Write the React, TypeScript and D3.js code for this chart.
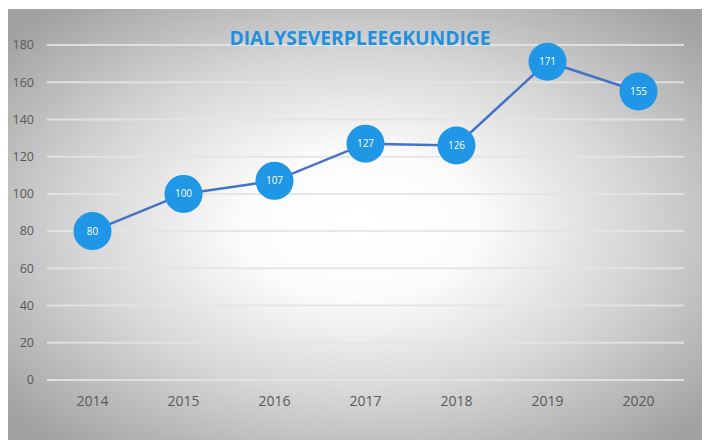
import * as d3 from "d3";
import { useEffect, useRef } from "react";

const years = ["2014", "2015", "2016", "2017", "2018", "2019", "2020"];
const counts = [80, 100, 107, 127, 126, 171, 155];
const yTicks = [0, 20, 40, 60, 80, 100, 120, 140, 160, 180];

const W = 702;
const H = 432;

export default function App() {
  const ref = useRef<SVGSVGElement>(null);

  useEffect(() => {
    if (!ref.current) return;
    const svg = d3.select(ref.current);
    svg.selectAll("*").remove();

    // page offset is 8px (body margin); coords below are in svg space
    const left = 39;
    const right = 676;
    const top = 37;
    const bottom = 372;

    const defs = svg.append("defs");
    const grad = defs
      .append("radialGradient")
      .attr("id", "bg")
      .attr("cx", "50%")
      .attr("cy", "50%")
      .attr("r", "66%");
    grad.append("stop").attr("offset", "0%").attr("stop-color", "#ffffff");
    grad.append("stop").attr("offset", "25%").attr("stop-color", "#fcfcfc");
    grad.append("stop").attr("offset", "60%").attr("stop-color", "#d6d6d6");
    grad.append("stop").attr("offset", "100%").attr("stop-color", "#a2a2a2");

    svg
      .append("rect")
      .attr("x", 0)
      .attr("y", 1)
      .attr("width", W)
      .attr("height", H)
      .attr("fill", "url(#bg)");

    const x = d3.scaleBand().domain(years).range([left, right]);
    const y = d3.scaleLinear().domain([0, 180]).range([bottom, top]);

    const grid = svg.append("g");
    grid
      .selectAll("line")
      .data(yTicks)
      .enter()
      .append("line")
      .attr("x1", left)
      .attr("x2", right)
      .attr("y1", (d) => y(d))
      .attr("y2", (d) => y(d))
      .attr("stroke", "#e3e3e3")
      .attr("stroke-opacity", 0.9)
      .attr("stroke-width", 2);

    svg
      .append("g")
      .selectAll("text")
      .data(yTicks)
      .enter()
      .append("text")
      .attr("x", 26)
      .attr("y", (d) => y(d))
      .attr("dy", "0.35em")
      .attr("text-anchor", "end")
      .attr("font-family", "'Open Sans', sans-serif")
      .attr("font-size", 12.5)
      .attr("fill", "#595959")
      .text((d) => d);

    svg
      .append("g")
      .selectAll("text")
      .data(years)
      .enter()
      .append("text")
      .attr("x", (d) => x(d)! + x.bandwidth() / 2)
      .attr("y", 398)
      .attr("text-anchor", "middle")
      .attr("font-family", "'Open Sans', sans-serif")
      .attr("font-size", 14)
      .attr("fill", "#595959")
      .text((d) => d);

    svg
      .append("text")
      .attr("x", 352)
      .attr("y", 37)
      .attr("text-anchor", "middle")
      .attr("font-family", "'Open Sans', sans-serif")
      .attr("font-weight", "bold")
      .attr("font-size", 20)
      .attr("textLength", 261)
      .attr("lengthAdjust", "spacingAndGlyphs")
      .attr("fill", "#1e90e0")
      .text("DIALYSEVERPLEEGKUNDIGE");

    const pts = years.map((yr, i) => ({ yr, v: counts[i] }));
    const line = d3
      .line<{ yr: string; v: number }>()
      .x((d) => x(d.yr)! + x.bandwidth() / 2)
      .y((d) => y(d.v));

    svg
      .append("path")
      .datum(pts)
      .attr("d", line)
      .attr("fill", "none")
      .attr("stroke", "#4472c4")
      .attr("stroke-width", 2.5);

    const marks = svg.append("g").selectAll("g").data(pts).enter().append("g");
    marks
      .append("circle")
      .attr("cx", (d) => x(d.yr)! + x.bandwidth() / 2)
      .attr("cy", (d) => y(d.v))
      .attr("r", 19)
      .attr("fill", "#2096e6");
    marks
      .append("text")
      .attr("x", (d) => x(d.yr)! + x.bandwidth() / 2)
      .attr("y", (d) => y(d.v))
      .attr("dy", "0.35em")
      .attr("text-anchor", "middle")
      .attr("font-family", "'Open Sans', sans-serif")
      .attr("font-size", 10)
      .attr("fill", "#ffffff")
      .text((d) => d.v);
  }, []);

  return <svg ref={ref} width={W} height={H} style={{ display: "block" }} />;
}
